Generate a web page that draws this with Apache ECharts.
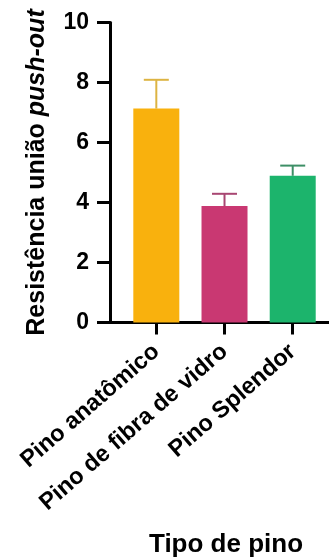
<!DOCTYPE html>
<html>
<head>
<meta charset="utf-8">
<script src="https://cdn.jsdelivr.net/npm/echarts@6/dist/echarts.min.js"></script>
<style>
  html, body { margin: 0; padding: 0; background: #fff; }
  #chart { width: 329px; height: 560px; }
</style>
</head>
<body>
<div id="chart"></div>
<script>
// Push-out bond strength by post type (mean with upper error bar)
var categories = ['Pino anatômico', 'Pino de fibra de vidro', 'Pino Splendor'];
var means = [7.13, 3.88, 4.89];
var upperErr = [0.96, 0.41, 0.34];
var barColors = ['#F9B10D', '#C93872', '#1CB46C'];
var errColors = ['#DDB443', '#A84672', '#3D8F66'];
var yTicks = [0, 2, 4, 6, 8, 10];

var FONT = '"Liberation Sans", Arial, sans-serif';
var positions = categories.map(function (c, i) { return i; });

var chart = echarts.init(document.getElementById('chart'), null, { renderer: 'canvas' });

chart.setOption({
  animation: false,
  backgroundColor: '#ffffff',
  grid: { left: 110, right: 0, top: 22.5, bottom: 237.5, containLabel: false, outerBoundsMode: 'none' },
  xAxis: {
    type: 'value',
    min: -0.679,
    max: 2.532,
    splitLine: { show: false },
    axisLine: { show: true, onZero: false, lineStyle: { color: '#000', width: 3 } },
    axisTick: { show: true, customValues: positions, length: 12, lineStyle: { color: '#000', width: 3 } },
    axisLabel: {
      customValues: positions,
      rotate: 41,
      margin: 26,
      fontFamily: FONT,
      fontWeight: 'bold',
      fontSize: 23.5,
      color: '#000',
      formatter: function (v) { return categories[Math.round(v)]; }
    },
    name: 'Tipo de pino',
    nameLocation: 'middle',
    nameGap: 209,
    nameMoveOverlap: false,
    nameTextStyle: { fontFamily: FONT, fontWeight: 'bold', fontSize: 26, color: '#000', padding: [0, 0, 0, 13] }
  },
  yAxis: {
    type: 'value',
    min: 0,
    max: 10,
    interval: 2,
    splitLine: { show: false },
    axisLine: { show: true, onZero: false, lineStyle: { color: '#000', width: 3 } },
    axisTick: { show: true, length: 13, lineStyle: { color: '#000', width: 3 } },
    axisLabel: {
      margin: 21,
      fontFamily: FONT,
      fontWeight: 'bold',
      fontSize: 23,
      color: '#000',
      customValues: yTicks
    },
    name: '{a|Resistência união }{b|push-out}',
    nameLocation: 'middle',
    nameGap: 60,
    nameRotate: 90,
    nameMoveOverlap: false,
    nameTextStyle: {
      rich: {
        a: { fontFamily: FONT, fontWeight: 'bold', fontSize: 25, color: '#000' },
        b: { fontFamily: FONT, fontWeight: 'bold', fontStyle: 'italic', fontSize: 25, color: '#000' }
      }
    }
  },
  series: [
    {
      type: 'bar',
      barWidth: 46,
      data: means.map(function (m, i) {
        return { value: [positions[i], m], itemStyle: { color: barColors[i] } };
      }),
      z: 2
    },
    {
      type: 'custom',
      z: 3,
      data: means.map(function (m, i) { return [positions[i], m, m + upperErr[i], i]; }),
      renderItem: function (params, api) {
        var x = api.value(0);
        var base = api.coord([x, api.value(1)]);
        var top = api.coord([x, api.value(2)]);
        var idx = api.value(3);
        var half = 12.5;
        var style = { stroke: errColors[idx], lineWidth: 2 };
        return {
          type: 'group',
          children: [
            { type: 'line', shape: { x1: base[0], y1: base[1], x2: top[0], y2: top[1] }, style: style },
            { type: 'line', shape: { x1: top[0] - half, y1: top[1], x2: top[0] + half, y2: top[1] }, style: style }
          ]
        };
      }
    }
  ]
});
</script>
</body>
</html>
